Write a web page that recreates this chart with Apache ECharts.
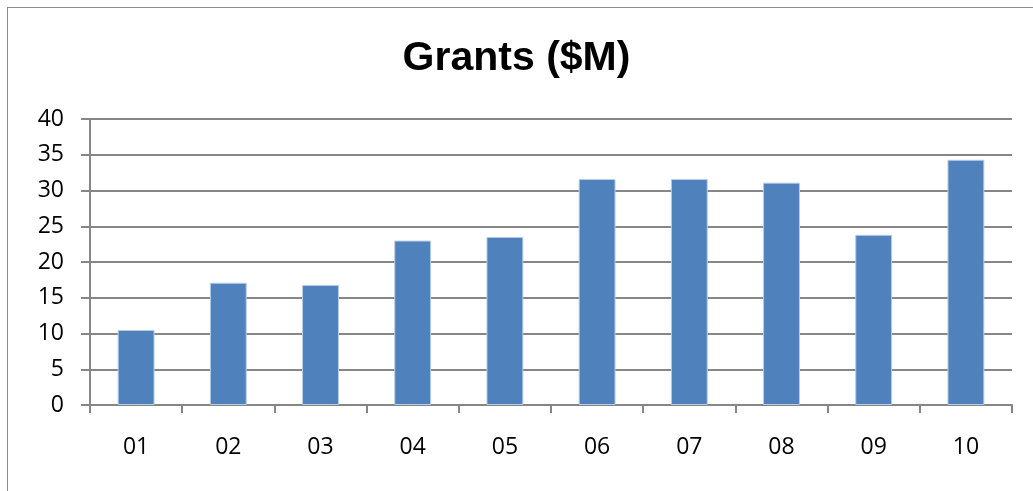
<!DOCTYPE html>
<html>
<head>
<meta charset="utf-8" />
<title>Grants</title>
<script src="https://cdn.jsdelivr.net/npm/echarts@6/dist/echarts.min.js"></script>
<style>
	html, body { margin: 0; padding: 0; background: #fff; }
	#frame { position: absolute; left: 7px; top: 7px; width: 1040px; height: 500px; border: 1px solid #8c8c8c; box-sizing: border-box; }
	#main { position: absolute; left: 0; top: 0; width: 1033px; height: 491px; }
</style>
</head>
<body>
<div id="frame"></div>
<div id="main"></div>
<script>
	// data
	var years = ['01', '02', '03', '04', '05', '06', '07', '08', '09', '10'];
	var grants = [10.5, 17.1, 16.8, 23.0, 23.5, 31.6, 31.6, 31.1, 23.8, 34.3];

	var axisColor = '#868686';
	var chart = echarts.init(document.getElementById('main'), null, { renderer: 'canvas' });
	chart.setOption({
		animation: false,
		title: {
			text: 'Grants ($M)',
			left: 'center',
			top: 33,
			textStyle: { fontFamily: 'Liberation Sans', fontWeight: 'bold', fontSize: 41, color: '#000' }
		},
		grid: { left: 90, right: 21, top: 119, bottom: 86 },
		xAxis: {
			type: 'category',
			data: years,
			axisLine: { lineStyle: { color: axisColor, width: 2 } },
			axisTick: { show: true, length: 8, lineStyle: { color: axisColor, width: 2 } },
			axisLabel: { margin: 31, fontSize: 23, color: '#000', fontFamily: 'Open Sans' }
		},
		yAxis: {
			type: 'value',
			min: 0,
			max: 40,
			interval: 5,
			axisLine: { show: true, lineStyle: { color: axisColor, width: 2 } },
			axisTick: { show: true, length: 9, lineStyle: { color: axisColor, width: 2 } },
			axisLabel: { margin: 26, fontSize: 23, color: '#000', fontFamily: 'Open Sans' },
			splitLine: { lineStyle: { color: axisColor, width: 2 } }
		},
		series: [{
			type: 'bar',
			data: grants,
			barWidth: '40%',
			itemStyle: { color: '#4F81BD', borderColor: '#b9cde5', borderWidth: 1 }
		}]
	});
</script>
</body>
</html>
